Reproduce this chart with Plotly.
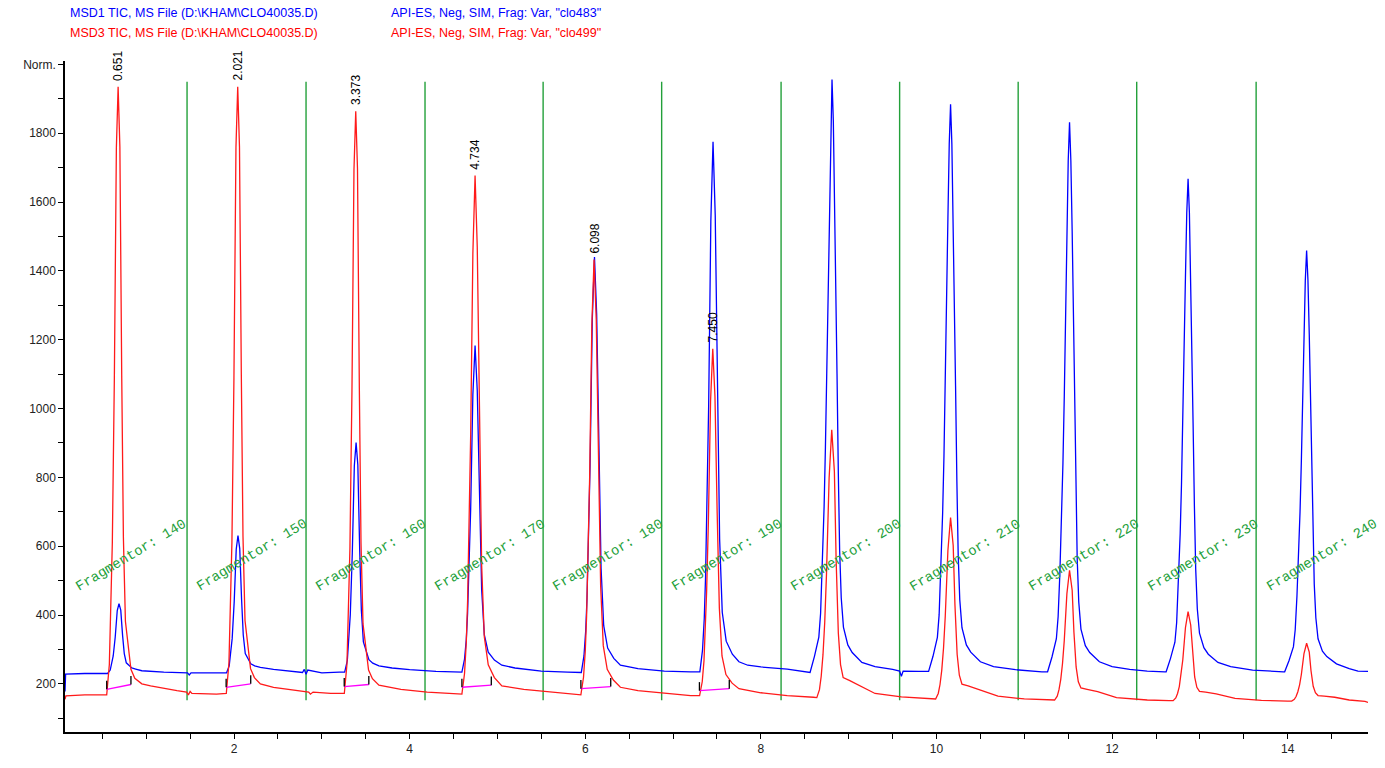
"""Chromatogramme MSD1 / MSD3 TIC (CLO40035.D) avec segments de fragmentor."""

import plotly.graph_objects as go

# ----------------------------------------------------------------------------
# Données (temps en min, intensité en unités "Norm.")
# ----------------------------------------------------------------------------

# MSD1 TIC "clo483" (bleu)
BLUE_TIME = [
    0.075, 0.082, 0.300,
    0.560, 0.590, 0.605, 0.624, 0.647, 0.670, 0.690, 0.710, 0.731, 0.750, 0.773, 0.804, 0.836, 0.880,
    0.95, 1.20, 1.47, 1.49, 1.51, 1.80,
    1.915, 1.945, 1.960, 1.979, 2.002, 2.025, 2.045, 2.065, 2.086, 2.105, 2.128, 2.159, 2.191, 2.235,
    2.30, 2.45, 2.60, 2.78, 2.80, 2.82, 2.84, 3.00, 3.20,
    3.260, 3.290, 3.305, 3.324, 3.347, 3.370, 3.390, 3.410, 3.431, 3.450, 3.473, 3.504, 3.536, 3.580,
    3.65, 3.80, 4.00, 4.30,
    4.595, 4.625, 4.645, 4.660, 4.675, 4.695, 4.720, 4.745, 4.770, 4.795, 4.820, 4.850, 4.895, 4.965,
    5.05, 5.20, 5.50, 5.80,
    5.955, 5.985, 6.005, 6.020, 6.035, 6.055, 6.080, 6.105, 6.130, 6.155, 6.180, 6.210, 6.255, 6.325,
    6.40, 6.60, 6.90, 7.20,
    7.305, 7.335, 7.355, 7.370, 7.385, 7.405, 7.430, 7.455, 7.480, 7.505, 7.530, 7.560, 7.605, 7.675,
    7.75, 7.85, 8.00, 8.30, 8.50,
    8.560, 8.610, 8.660, 8.680, 8.700, 8.720, 8.735, 8.750, 8.765, 8.780, 8.795, 8.810,
    8.825, 8.840, 8.855, 8.867, 8.882, 8.897, 8.915, 8.940, 8.990, 9.040, 9.150,
    9.30, 9.50, 9.58, 9.60, 9.62, 9.80, 9.90,
    9.910, 9.960, 10.010, 10.030, 10.050, 10.070, 10.085, 10.100, 10.115, 10.130, 10.145, 10.160,
    10.175, 10.190, 10.205, 10.217, 10.232, 10.247, 10.265, 10.290, 10.340, 10.390, 10.500,
    10.65, 10.90, 11.10, 11.20,
    11.265, 11.315, 11.365, 11.385, 11.405, 11.425, 11.440, 11.455, 11.470, 11.485, 11.500, 11.515,
    11.530, 11.545, 11.560, 11.572, 11.587, 11.602, 11.620, 11.645, 11.695, 11.745, 11.855,
    12.00, 12.20, 12.40, 12.60,
    12.615, 12.665, 12.715, 12.735, 12.755, 12.775, 12.790, 12.805, 12.820, 12.835, 12.850, 12.865,
    12.880, 12.895, 12.910, 12.922, 12.937, 12.952, 12.970, 12.995, 13.045, 13.095, 13.205,
    13.35, 13.60, 13.80, 13.95,
    13.965, 14.015, 14.065, 14.085, 14.105, 14.125, 14.140, 14.155, 14.170, 14.185, 14.200, 14.215,
    14.230, 14.245, 14.260, 14.272, 14.287, 14.302, 14.320, 14.345, 14.395, 14.445, 14.555,
    14.70, 14.80, 14.914,
]
BLUE_SIGNAL = [
    178, 228, 230,
    230, 240, 256, 281, 336, 413, 433, 414, 340, 288, 261, 254, 246, 243,
    238, 234, 232, 226, 232, 232,
    232, 252, 284, 332, 439, 591, 631, 593, 446, 342, 288, 273, 258, 252,
    248, 242, 237, 233, 242, 228, 240, 232, 234,
    234, 267, 321, 401, 581, 834, 901, 836, 589, 413, 322, 296, 270, 260,
    252, 246, 241, 236,
    234, 272, 329, 405, 519, 709, 1041, 1183, 1052, 735, 474, 343, 292, 269,
    254, 246, 237, 234,
    233, 281, 354, 450, 595, 837, 1259, 1440, 1273, 869, 536, 369, 304, 274,
    254, 244, 237, 235,
    235, 297, 389, 512, 697, 1005, 1544, 1775, 1562, 1046, 621, 408, 324, 286,
    264, 254, 249, 243, 236,
    233, 280, 336, 405, 543, 715, 888, 1095, 1353, 1611, 1835, 1956,
    1836, 1614, 1357, 1101, 810, 587, 450, 365, 313, 291, 262,
    250, 242, 237, 222, 237, 236, 236,
    236, 280, 335, 401, 533, 697, 862, 1060, 1307, 1554, 1769, 1884,
    1769, 1557, 1311, 1066, 788, 575, 444, 363, 313, 292, 264,
    250, 241, 236, 235,
    235, 278, 331, 395, 522, 682, 842, 1034, 1273, 1513, 1720, 1832,
    1721, 1515, 1278, 1040, 771, 565, 438, 359, 311, 291, 264,
    250, 242, 237, 235,
    235, 274, 321, 378, 493, 636, 780, 952, 1166, 1381, 1568, 1668,
    1569, 1384, 1171, 958, 717, 532, 418, 347, 305, 286, 262,
    250, 240, 236, 235,
    235, 268, 308, 357, 455, 578, 700, 847, 1031, 1214, 1373, 1459,
    1374, 1216, 1034, 853, 646, 489, 392, 331, 295, 279, 258,
    244, 237, 236,
]

# MSD3 TIC "clo499" (rouge)
RED_TIME = [
    0.075, 0.085, 0.300,
    0.550, 0.580, 0.595, 0.614, 0.637, 0.660, 0.680, 0.700, 0.721, 0.740, 0.763, 0.794, 0.826, 0.870,
    0.95, 1.05, 1.20, 1.35, 1.46, 1.48, 1.50, 1.52, 1.80,
    1.912, 1.942, 1.957, 1.976, 1.999, 2.022, 2.042, 2.062, 2.083, 2.102, 2.125, 2.156, 2.188, 2.232,
    2.30, 2.45, 2.65, 2.85, 2.87, 2.90, 3.10,
    3.256, 3.286, 3.301, 3.320, 3.343, 3.366, 3.386, 3.406, 3.427, 3.446, 3.469, 3.500, 3.532, 3.576,
    3.65, 3.90, 4.20, 4.45,
    4.595, 4.625, 4.645, 4.660, 4.675, 4.695, 4.720, 4.745, 4.770, 4.795, 4.820, 4.850, 4.895, 4.965,
    5.05, 5.30, 5.60, 5.90,
    5.950, 5.980, 6.000, 6.015, 6.030, 6.050, 6.075, 6.100, 6.125, 6.150, 6.175, 6.205, 6.250, 6.320,
    6.40, 6.60, 6.90, 7.20,
    7.302, 7.332, 7.352, 7.367, 7.382, 7.402, 7.427, 7.452, 7.477, 7.502, 7.527, 7.557, 7.602, 7.672,
    7.75, 8.00, 8.30, 8.60,
    8.637, 8.667, 8.687, 8.707, 8.727, 8.747, 8.777, 8.807, 8.837, 8.857, 8.882, 8.907, 8.937, 9.007, 9.127,
    9.30, 9.60, 9.90,
    9.990, 10.020, 10.040, 10.060, 10.080, 10.100, 10.130, 10.160, 10.190, 10.210, 10.235, 10.260, 10.290, 10.360, 10.480,
    10.70, 11.00, 11.30,
    11.345, 11.375, 11.395, 11.415, 11.435, 11.455, 11.485, 11.515, 11.545, 11.565, 11.590, 11.615, 11.645, 11.715, 11.835,
    12.05, 12.40, 12.65,
    12.695, 12.725, 12.745, 12.765, 12.785, 12.805, 12.835, 12.865, 12.895, 12.915, 12.940, 12.965, 12.995, 13.065, 13.185,
    13.40, 13.70, 14.00,
    14.045, 14.075, 14.095, 14.115, 14.135, 14.155, 14.185, 14.215, 14.245, 14.265, 14.290, 14.315, 14.345, 14.415, 14.535,
    14.70, 14.88, 14.914,
]
RED_SIGNAL = [
    155, 165, 168,
    168, 256, 398, 610, 1087, 1758, 1935, 1761, 1097, 626, 382, 312, 242, 216,
    200, 194, 186, 180, 176, 168, 178, 172, 170,
    172, 260, 401, 613, 1089, 1759, 1935, 1761, 1098, 628, 384, 314, 244, 218,
    200, 190, 182, 176, 170, 176, 172,
    172, 257, 392, 595, 1052, 1695, 1864, 1697, 1060, 609, 374, 307, 240, 215,
    196, 184, 176, 172,
    170, 230, 321, 441, 622, 924, 1451, 1677, 1469, 962, 545, 337, 255, 218,
    194, 184, 176, 170,
    168, 219, 295, 396, 548, 801, 1243, 1433, 1258, 834, 485, 311, 242, 211,
    190, 180, 172, 166,
    166, 206, 267, 347, 468, 670, 1023, 1174, 1035, 698, 420, 281, 227, 202,
    186, 174, 166, 161,
    160, 183, 222, 284, 378, 518, 798, 938, 817, 559, 347, 256, 218, 210, 195,
    172, 162, 157,
    156, 172, 198, 240, 304, 398, 588, 683, 602, 429, 286, 225, 199, 194, 184,
    164, 156, 153,
    153, 164, 183, 213, 259, 326, 462, 530, 472, 350, 249, 206, 188, 184, 177,
    160, 153, 151,
    151, 159, 172, 192, 224, 270, 363, 410, 371, 288, 220, 190, 178, 176, 171,
    158, 152, 150,
    150, 155, 163, 177, 197, 227, 288, 318, 292, 238, 193, 174, 166, 164, 161,
    153, 149, 146,
]

# Lignes de base d'intégration (magenta) des six premiers pics rouges
BASE_START_TIME = [0.55, 1.91, 3.255, 4.595, 5.95, 7.30]
BASE_START_SIGNAL = [184, 190, 192, 190, 186, 180]
BASE_END_TIME = [0.826, 2.19, 3.535, 4.93, 6.29, 7.64]
BASE_END_SIGNAL = [198, 200, 198, 196, 192, 186]

# Temps de rétention annotés (sommets rouges)
PEAK_LABELS = ["0.651", "2.021", "3.373", "4.734", "6.098", "7.450"]
PEAK_TIME = [0.680, 2.042, 3.386, 4.745, 6.100, 7.452]
PEAK_SIGNAL = [1935, 1935, 1864, 1677, 1433, 1174]

# Changements de fragmentor (lignes vertes) et étiquettes
FRAG_LINE_TIME = [1.465, 2.82, 4.175, 5.52, 6.87, 8.23, 9.58, 10.93, 12.28, 13.64]
FRAG_LINE_RANGE = [152, 1950]
FRAG_VALUES = [140, 150, 160, 170, 180, 190, 200, 210, 220, 230, 240]
FRAG_LABEL_TIME = [0.83, 2.20, 3.56, 4.92, 6.26, 7.61, 8.97, 10.33, 11.68, 13.04, 14.39]
FRAG_LABEL_SIGNAL = 574

HEADER = [
    ("MSD1 TIC, MS File (D:\\KHAM\\CLO40035.D)", 'API-ES, Neg, SIM, Frag: Var, "clo483"', "#0000FF"),
    ("MSD3 TIC, MS File (D:\\KHAM\\CLO40035.D)", 'API-ES, Neg, SIM, Frag: Var, "clo499"', "#FF0000"),
]

Y_TICKS = [200, 400, 600, 800, 1000, 1200, 1400, 1600, 1800, 2000]
Y_TICK_TEXT = ["200", "400", "600", "800", "1000", "1200", "1400", "1600", "1800", "Norm."]

BLUE = "#0000FF"
RED = "#FF1A1A"
MAGENTA = "#FF00FF"
GREEN = "#23A03A"
SANS = "Liberation Sans, Arial, sans-serif"
MONO = "Liberation Mono, Courier New, monospace"

# ----------------------------------------------------------------------------
# Figure
# ----------------------------------------------------------------------------

fig = go.Figure()

# lignes vertes de fragmentor
gx, gy = [], []
for t in FRAG_LINE_TIME:
    gx += [t, t, None]
    gy += [FRAG_LINE_RANGE[0], FRAG_LINE_RANGE[1], None]
fig.add_trace(go.Scatter(x=gx, y=gy, mode="lines", line=dict(color=GREEN, width=1.4),
                         hoverinfo="skip", showlegend=False))

fig.add_trace(go.Scatter(x=BLUE_TIME, y=BLUE_SIGNAL, mode="lines",
                         line=dict(color=BLUE, width=1.3), name="MSD1 TIC", showlegend=False))
fig.add_trace(go.Scatter(x=RED_TIME, y=RED_SIGNAL, mode="lines",
                         line=dict(color=RED, width=1.3), name="MSD3 TIC", showlegend=False))

# lignes de base + repères noirs
mx, my, kx, ky = [], [], [], []
for t0, y0, t1, y1 in zip(BASE_START_TIME, BASE_START_SIGNAL, BASE_END_TIME, BASE_END_SIGNAL):
    mx += [t0, t1, None]
    my += [y0, y1, None]
    kx += [t0, t0, None, t1, t1, None]
    ky += [y0, y0 + 25, None, y1, y1 + 25, None]
fig.add_trace(go.Scatter(x=mx, y=my, mode="lines", line=dict(color=MAGENTA, width=1.3),
                         hoverinfo="skip", showlegend=False))
fig.add_trace(go.Scatter(x=kx, y=ky, mode="lines", line=dict(color="black", width=1.3),
                         hoverinfo="skip", showlegend=False))

annotations = []
for label, t, y in zip(PEAK_LABELS, PEAK_TIME, PEAK_SIGNAL):
    annotations.append(dict(
        x=t, y=y, text=label, textangle=-90, showarrow=False,
        xanchor="center", yanchor="bottom", yshift=4,
        font=dict(family=SANS, size=12, color="black"),
    ))

for t, v in zip(FRAG_LABEL_TIME, FRAG_VALUES):
    annotations.append(dict(
        x=t, y=FRAG_LABEL_SIGNAL, text=f"Fragmentor: {v}", textangle=-31,
        showarrow=False, xanchor="center", yanchor="middle",
        font=dict(family=MONO, size=14, color=GREEN),
    ))

for i, (left, right, color) in enumerate(HEADER):
    for x, txt in ((0.002, left), (0.249, right)):
        annotations.append(dict(
            x=x, y=1.072 - i * 0.03, xref="paper", yref="paper", text=txt,
            showarrow=False, xanchor="left", yanchor="middle",
            font=dict(family=SANS, size=12.5, color=color),
        ))

fig.update_layout(
    width=1385, height=768,
    margin=dict(l=65, r=17, t=61, b=28),
    paper_bgcolor="white", plot_bgcolor="white",
    showlegend=False,
    annotations=annotations,
    xaxis=dict(
        range=[0.075, 14.914], showgrid=False, zeroline=False,
        showline=True, linecolor="black", linewidth=1.5,
        tick0=0, dtick=2, ticks="outside", ticklen=5, tickcolor="black",
        minor=dict(tick0=0, dtick=0.5, ticks="outside", ticklen=5, tickcolor="black"),
        tickfont=dict(family=SANS, size=12, color="#222"),
    ),
    yaxis=dict(
        range=[60, 2010], showgrid=False, zeroline=False,
        showline=True, linecolor="black", linewidth=1.5,
        tickmode="array", tickvals=Y_TICKS, ticktext=Y_TICK_TEXT,
        ticks="outside", ticklen=5, tickcolor="black",
        minor=dict(tickmode="linear", tick0=0, dtick=100, ticks="outside", ticklen=5, tickcolor="black"),
        tickfont=dict(family=SANS, size=12, color="#222"),
    ),
)

fig.write_html("out.html", config={"displayModeBar": False},
               post_script="document.body.style.margin='0';")
